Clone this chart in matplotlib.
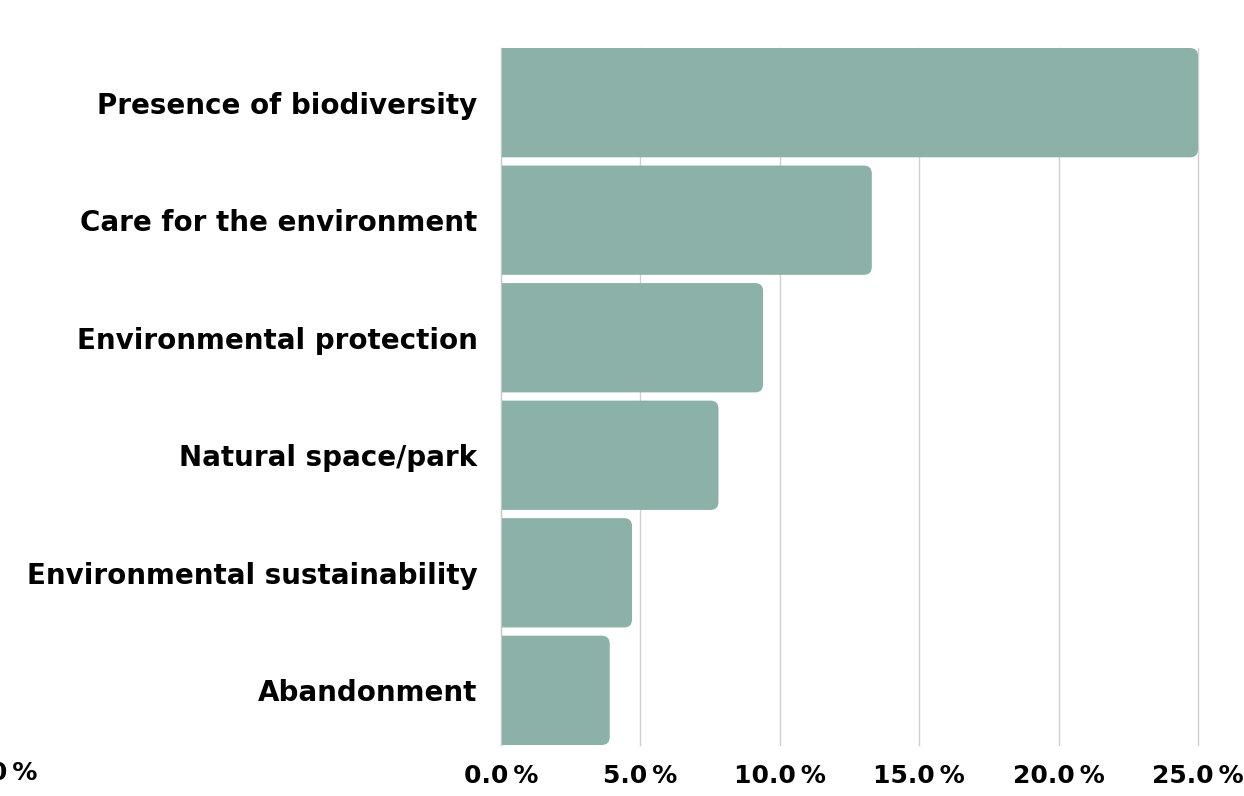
import matplotlib.pyplot as plt
from matplotlib.patches import FancyBboxPatch

categorias = ['Presence of biodiversity', 'Care for the environment',
              'Environmental protection', 'Natural space/park',
              'Environmental sustainability', 'Abandonment']
valores = [25.0, 13.3, 9.4, 7.8, 4.7, 3.9]
ticks = [0, 5, 10, 15, 20, 25]

plt.rcParams['font.family'] = ['DejaVu Sans']

W, H = 1244, 796
fig = plt.figure(figsize=(W / 100, H / 100), dpi=100)
ax = fig.add_axes([501 / W, (H - 745) / H, (1198 - 501) / W, (745 - 48) / H])

n = len(categorias)
altura = 0.93
ax.set_xlim(0, 25)
ax.set_ylim(n - 1 + altura / 2, -altura / 2)

# barras arredondadas: corrige a escala diferente de x e y em pixels
bbox = ax.get_position()
px_x = bbox.width * W / 25.0
px_y = bbox.height * H / (n - 1 + altura)
raio = 8 / px_x
aspecto = px_x / px_y
for i, v in enumerate(valores):
    barra = FancyBboxPatch((-1, i - altura / 2), v + 1, altura,
                           boxstyle=f"round,pad=0,rounding_size={raio}",
                           mutation_aspect=aspecto,
                           facecolor='#8bb1a9', edgecolor='none', zorder=2)
    ax.add_patch(barra)

ax.set_xticks(ticks)
ax.set_xticklabels([f'{t:.1f}\u2009%' for t in ticks], fontsize=18, fontweight='bold')
ax.set_yticks(range(n))
ax.set_yticklabels(categorias, fontsize=20, fontweight='bold')
ax.tick_params(axis='both', length=0)
ax.tick_params(axis='x', pad=14)
ax.tick_params(axis='y', pad=17)
ax.grid(axis='x', color='#d0d0d0', linewidth=1, zorder=0)
for g in ax.get_xgridlines():
    g.set_clip_on(False)
for lado in ['top', 'right', 'bottom']:
    ax.spines[lado].set_visible(False)
ax.spines['left'].set_color('#c8c8c8')
ax.spines['left'].set_zorder(3)

# rótulo solto na borda esquerda
fig.text(37 / W, (H - 773) / H, '0.0\u2009%', ha='right', va='center',
         fontsize=18, fontweight='bold')

fig.savefig('out.png', dpi=100)
